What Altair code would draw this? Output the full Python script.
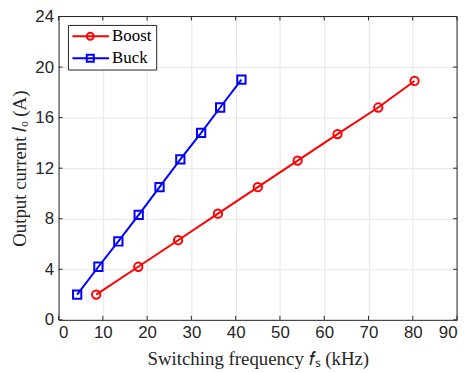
import altair as alt
import pandas as pd

boost_f = [8.5, 18.0, 27.0, 36.0, 45.0, 54.0, 63.0, 72.2, 80.4]
boost_i = [2.0, 4.2, 6.3, 8.4, 10.5, 12.6, 14.7, 16.8, 18.9]
buck_f = [4.2, 9.0, 13.5, 18.1, 22.8, 27.5, 32.2, 36.5, 41.3]
buck_i = [2.0, 4.2, 6.2, 8.3, 10.5, 12.7, 14.8, 16.8, 19.0]
series = ["Boost", "Buck"]
colors = ["#FF0000", "#0000FF"]
shapes = ["circle", "square"]
x_ticks = list(range(0, 91, 10))
y_ticks = list(range(0, 25, 4))

W, H = 402, 306

rows = []
for s, fs, io in [("Boost", boost_f, boost_i), ("Buck", buck_f, buck_i)]:
    for k, (a, b) in enumerate(zip(fs, io)):
        rows.append({"series": s, "f": a, "I": b, "k": k})
df = pd.DataFrame(rows)

xs = alt.Scale(domain=[0, 90], nice=False)
ys = alt.Scale(domain=[0, 24], nice=False)
cs = alt.Scale(domain=series, range=colors)
ss = alt.Scale(domain=series, range=shapes)

axis_common = dict(grid=True, gridColor="#e6e6e6", gridWidth=1,
                   domainColor="#262626", domainWidth=1, ticks=False,
                   labelFont="Liberation Sans", labelFontSize=17, labelColor="#262626",
                   labelPadding=5, titleFont="Liberation Serif", titleFontSize=19,
                   titleFontWeight="normal", titleColor="#262626")
x_axis = alt.Axis(values=x_ticks, title="Switching frequency 𝑓ₛ (kHz)", titlePadding=9, **axis_common)
y_axis = alt.Axis(values=y_ticks, title="Output current 𝐼ₒ (A)", titlePadding=5, **axis_common)

base = alt.Chart(df).encode(
    x=alt.X("f:Q", scale=xs, axis=x_axis),
    y=alt.Y("I:Q", scale=ys, axis=y_axis),
    color=alt.Color("series:N", scale=cs, legend=None),
)

lines = base.mark_line(strokeWidth=2).encode(detail="series:N", order="k:Q")
points = base.mark_point(size=70, strokeWidth=2, filled=False, opacity=1).encode(
    shape=alt.Shape("series:N", scale=ss, legend=None))

one = pd.DataFrame({"v": [0]})
frame_top = alt.Chart(one).mark_rule(color="#262626", strokeWidth=1).encode(
    x=alt.value(0), x2=alt.value(W), y=alt.value(0))
frame_right = alt.Chart(one).mark_rule(color="#262626", strokeWidth=1).encode(
    x=alt.value(W), y=alt.value(0), y2=alt.value(H))

# inward ticks
xt = pd.DataFrame({"f": x_ticks})
yt = pd.DataFrame({"I": y_ticks})
tick_b = alt.Chart(xt).mark_rule(color="#262626").encode(
    x=alt.X("f:Q", scale=xs, axis=x_axis), y=alt.value(H), y2=alt.value(H - 4))
tick_t = alt.Chart(xt).mark_rule(color="#262626").encode(
    x=alt.X("f:Q", scale=xs, axis=x_axis), y=alt.value(0), y2=alt.value(4))
tick_l = alt.Chart(yt).mark_rule(color="#262626").encode(
    y=alt.Y("I:Q", scale=ys, axis=y_axis), x=alt.value(0), x2=alt.value(4))
tick_r = alt.Chart(yt).mark_rule(color="#262626").encode(
    y=alt.Y("I:Q", scale=ys, axis=y_axis), x=alt.value(W), x2=alt.value(W - 4))

# legend
leg_layers = [alt.Chart(one).mark_rect(fill="white", stroke="#262626", strokeWidth=1).encode(
    x=alt.value(10), x2=alt.value(99), y=alt.value(9), y2=alt.value(54))]
for name, col, shp, yy in zip(series, colors, shapes, [20, 42]):
    d = pd.DataFrame({"series": [name]})
    leg_layers.append(alt.Chart(d).mark_rule(strokeWidth=2, color=col).encode(
        y=alt.value(yy), x=alt.value(14), x2=alt.value(51)))
    leg_layers.append(alt.Chart(d).mark_point(size=50, strokeWidth=2, filled=False, opacity=1,
                                              color=col, shape=shp).encode(
        y=alt.value(yy), x=alt.value(32)))
    leg_layers.append(alt.Chart(d).mark_text(align="left", baseline="middle",
                                             font="Liberation Serif, serif", fontSize=17,
                                             fontWeight="normal", color="black").encode(
        y=alt.value(yy), x=alt.value(54), text="series:N"))

chart = alt.layer(
    lines, points, tick_b, tick_t, tick_l, tick_r, frame_top, frame_right, *leg_layers
).properties(
    width=W, height=H,
    autosize=alt.AutoSizeParams(type="none"),
    padding={"left": 51, "top": 7, "right": 6, "bottom": 48},
).configure_view(stroke=None)

chart.save("out.html", embed_options={"renderer": "svg", "actions": False})
